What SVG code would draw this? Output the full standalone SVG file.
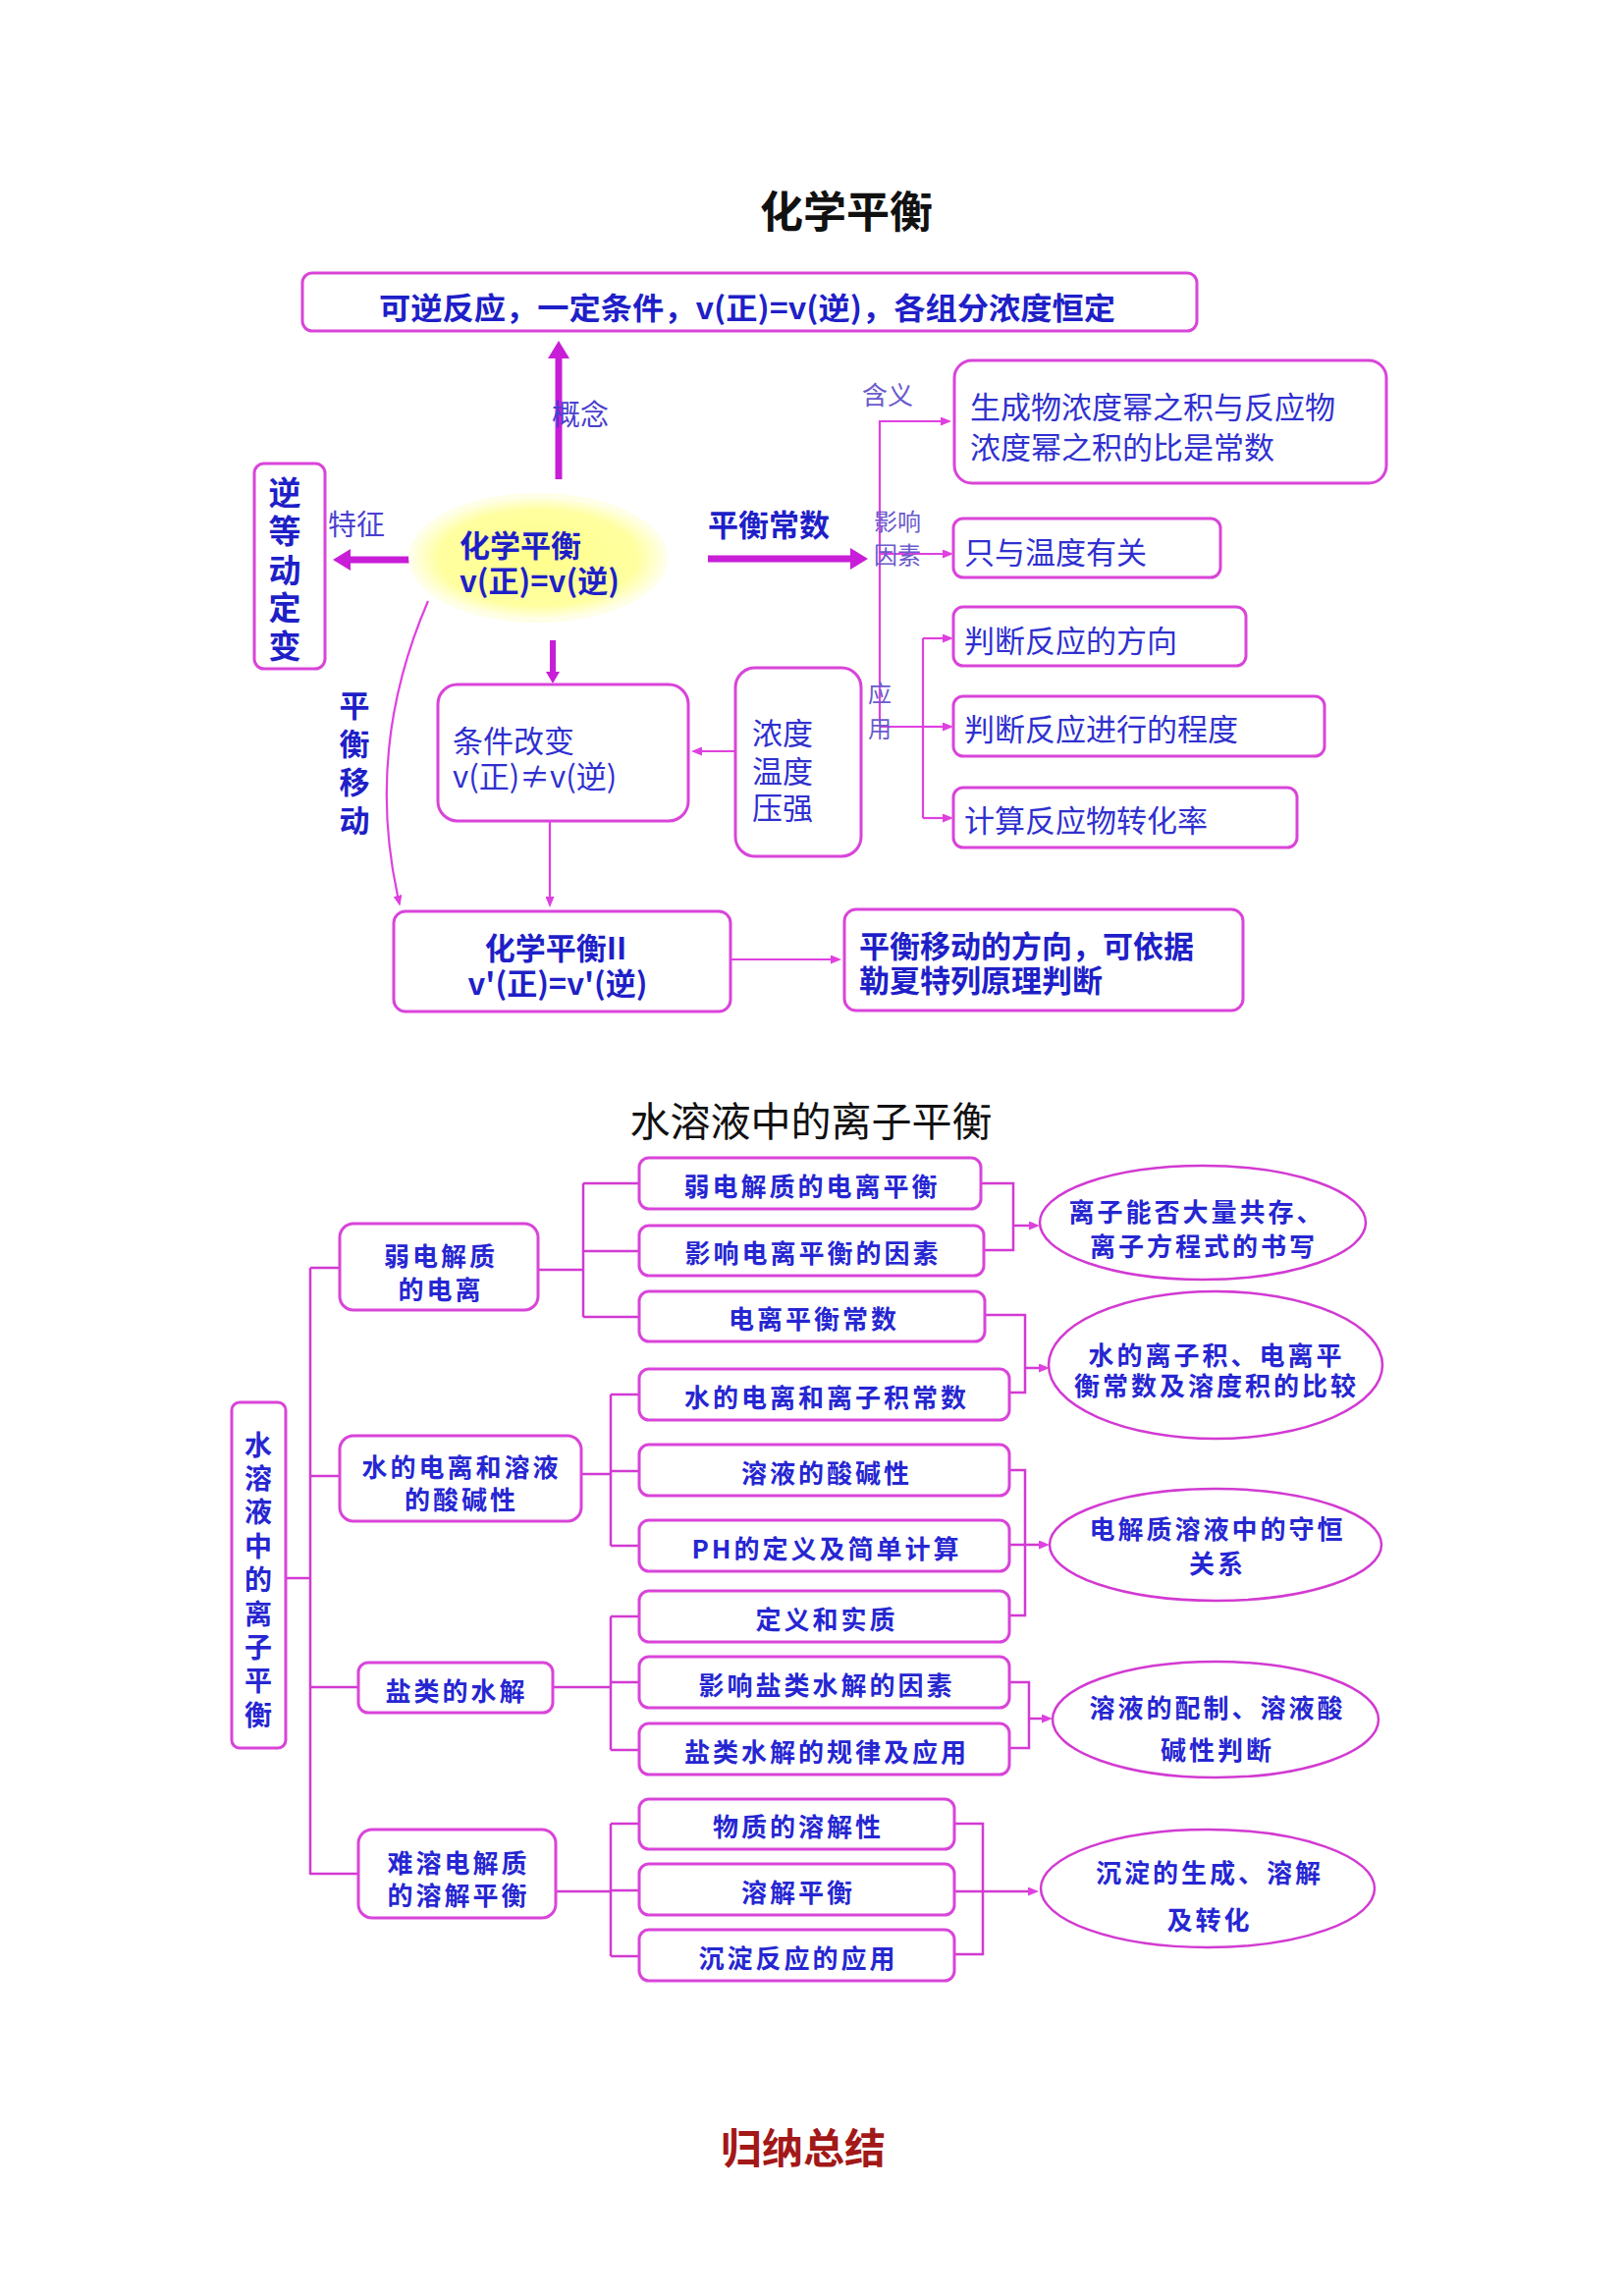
<svg xmlns="http://www.w3.org/2000/svg" width="1653" height="2338" viewBox="0 0 1653 2338">
<defs>
<style>
text{font-family:"Noto Sans CJK SC","Liberation Sans",sans-serif;dominant-baseline:central}
.title{font-size:44px;font-weight:bold;fill:#111;text-anchor:middle}
.title2{font-size:41px;fill:#111;text-anchor:middle}
.box{fill:#fff;stroke:#d944d9;stroke-width:3}
.bt{font-size:31px;font-weight:bold;fill:#1f1fc8}
.nt{font-size:31px;fill:#3030d0}
.lbl{font-size:24px;fill:#6a5acd}
.lbl2{font-size:29px;fill:#4a3fd0}
.mid{text-anchor:middle}
.thick{stroke:#c81ed8;stroke-width:7;fill:none}
.thin{stroke:#e040e0;stroke-width:2.2;fill:none}
.c2{stroke:#d23ad2;stroke-width:2.5;fill:none}
.s2{font-size:26px;font-weight:bold;fill:#2626d2;letter-spacing:3px;text-anchor:middle}
.v2{font-size:28px;font-weight:bold;fill:#2626d2;text-anchor:middle}
.ell{fill:#fff;stroke:#d23ad2;stroke-width:2.5}
</style>
<marker id="big" viewBox="0 0 18 22" markerWidth="18" markerHeight="22" refX="0" refY="11" orient="auto" markerUnits="userSpaceOnUse"><path d="M0,0 L18,11 L0,22 z" fill="#c81ed8"/></marker>
<marker id="mid" viewBox="0 0 12 14" markerWidth="12" markerHeight="14" refX="0" refY="7" orient="auto" markerUnits="userSpaceOnUse"><path d="M0,0 L12,7 L0,14 z" fill="#c81ed8"/></marker>
<marker id="sm" viewBox="0 0 11 9" markerWidth="11" markerHeight="9" refX="0" refY="4.5" orient="auto" markerUnits="userSpaceOnUse"><path d="M0,0 L11,4.5 L0,9 z" fill="#e040e0"/></marker>
<radialGradient id="yel" cx="0.5" cy="0.5" r="0.5">
<stop offset="0" stop-color="#ffff8c"/><stop offset="0.8" stop-color="#ffffa0"/><stop offset="1" stop-color="#ffffe0"/>
</radialGradient>
</defs>
<rect width="1653" height="2338" fill="#fff"/>

<!-- ===== Section 1 ===== -->
<text class="title" x="862" y="213">化学平衡</text>

<g id="connectors1">
<line class="thick" x1="569" y1="488" x2="569" y2="365" marker-end="url(#big)"/>
<line class="thick" x1="417" y1="570" x2="357" y2="570" marker-end="url(#big)"/>
<line class="thick" x1="721" y1="569" x2="866" y2="569" marker-end="url(#big)"/>
<line class="thick" x1="563" y1="652" x2="563" y2="684" style="stroke-width:6" marker-end="url(#mid)"/>
<polyline class="thin" points="896,736 896,429 958,429" marker-end="url(#sm)"/>
<line class="thin" x1="896" y1="564" x2="960" y2="564" marker-end="url(#sm)"/>
<line class="thin" x1="896" y1="740" x2="940" y2="740"/>
<line class="thin" x1="940" y1="650" x2="940" y2="833"/>
<line class="thin" x1="940" y1="650" x2="960" y2="650" marker-end="url(#sm)"/>
<line class="thin" x1="940" y1="740" x2="960" y2="740" marker-end="url(#sm)"/>
<line class="thin" x1="940" y1="833" x2="960" y2="833" marker-end="url(#sm)"/>
<line class="thin" x1="748" y1="765" x2="715" y2="765" marker-end="url(#sm)"/>
<line class="thin" x1="560" y1="837" x2="560" y2="913" marker-end="url(#sm)"/>
<path class="thin" d="M436,612 Q372,760 405,912" marker-end="url(#sm)"/>
<line class="thin" x1="745" y1="977" x2="846" y2="977" marker-end="url(#sm)"/>
</g>
<text class="lbl2" x="562" y="420">概念</text>
<text class="lbl2" x="334" y="532">特征</text>
<text class="lbl" x="878" y="400" style="font-size:26px">含义</text>
<text class="lbl"><tspan x="890" y="529">影响</tspan><tspan x="890" y="563">因素</tspan></text>
<text class="lbl"><tspan x="884" y="704">应</tspan><tspan x="884" y="740">用</tspan></text>
<text class="bt" x="721" y="532">平衡常数</text>

<g id="n_concept">
<rect class="box" x="308" y="278" width="911" height="59" rx="10"/>
<text class="bt" x="386" y="311" textLength="750" lengthAdjust="spacingAndGlyphs">可逆反应，一定条件，v(正)=v(逆)，各组分浓度恒定</text>
</g>

<g id="n_center">
<ellipse cx="548" cy="568" rx="132" ry="66" fill="#ffffe8"/>
<ellipse cx="548" cy="568" rx="126" ry="61" fill="url(#yel)"/>
<text class="bt"><tspan x="468" y="553">化学平衡</tspan><tspan x="468" y="589">v(正)=v(逆)</tspan></text>
</g>

<g id="n_features">
<rect class="box" x="259" y="472" width="72" height="209" rx="10"/>
<text class="bt mid" style="font-size:33px"><tspan x="290" y="500">逆</tspan><tspan x="290" y="539">等</tspan><tspan x="290" y="579">动</tspan><tspan x="290" y="617">定</tspan><tspan x="290" y="656">变</tspan></text>
</g>

<g id="n_shiftlabel">
<text class="bt mid"><tspan x="361" y="716">平</tspan><tspan x="361" y="755">衡</tspan><tspan x="361" y="794">移</tspan><tspan x="361" y="833">动</tspan></text>
</g>

<g id="n_meaning">
<rect class="box" x="972" y="367" width="440" height="125" rx="18"/>
<text class="nt"><tspan x="988" y="412">生成物浓度幂之积与反应物</tspan><tspan x="988" y="453">浓度幂之积的比是常数</tspan></text>
</g>

<g id="n_temp">
<rect class="box" x="971" y="528" width="272" height="60" rx="10"/>
<text class="nt" x="982" y="560">只与温度有关</text>
</g>
<g id="n_dir">
<rect class="box" x="971" y="618" width="298" height="60" rx="10"/>
<text class="nt" x="982" y="650">判断反应的方向</text>
</g>
<g id="n_degree">
<rect class="box" x="971" y="709" width="378" height="61" rx="10"/>
<text class="nt" x="982" y="740">判断反应进行的程度</text>
</g>
<g id="n_conv">
<rect class="box" x="971" y="802" width="350" height="61" rx="10"/>
<text class="nt" x="982" y="833">计算反应物转化率</text>
</g>

<g id="n_factors">
<rect class="box" x="749" y="680" width="128" height="192" rx="20"/>
<text class="nt"><tspan x="766" y="744">浓度</tspan><tspan x="766" y="783">温度</tspan><tspan x="766" y="820">压强</tspan></text>
</g>

<g id="n_change">
<rect class="box" x="446" y="697" width="255" height="139" rx="20"/>
<text class="nt"><tspan x="461" y="752">条件改变</tspan><tspan x="461" y="788">v(正)≠v(逆)</tspan></text>
</g>

<g id="n_eq2">
<rect class="box" x="401" y="928" width="343" height="102" rx="12"/>
<text class="bt mid"><tspan x="566" y="963">化学平衡II</tspan><tspan x="568" y="999">v'(正)=v'(逆)</tspan></text>
</g>

<g id="n_lechatelier">
<rect class="box" x="860" y="926" width="406" height="103" rx="12"/>
<text class="bt"><tspan x="875" y="961">平衡移动的方向，可依据</tspan><tspan x="875" y="996">勒夏特列原理判断</tspan></text>
</g>

<!-- ===== Section 2 ===== -->
<text class="title2" x="826" y="1139">水溶液中的离子平衡</text>

<g id="connectors2">
<line class="c2" x1="291" y1="1607" x2="316" y2="1607"/>
<line class="c2" x1="316" y1="1291" x2="316" y2="1909"/>
<line class="c2" x1="316" y1="1291" x2="346" y2="1291"/>
<line class="c2" x1="316" y1="1503" x2="346" y2="1503"/>
<line class="c2" x1="316" y1="1718" x2="365" y2="1718"/>
<line class="c2" x1="316" y1="1908" x2="365" y2="1908"/>

<line class="c2" x1="548" y1="1293" x2="594" y2="1293"/>
<line class="c2" x1="594" y1="1205" x2="594" y2="1341"/>
<line class="c2" x1="594" y1="1205" x2="651" y2="1205"/>
<line class="c2" x1="594" y1="1274" x2="651" y2="1274"/>
<line class="c2" x1="594" y1="1341" x2="651" y2="1341"/>

<line class="c2" x1="592" y1="1501" x2="622" y2="1501"/>
<line class="c2" x1="622" y1="1420" x2="622" y2="1574"/>
<line class="c2" x1="622" y1="1420" x2="651" y2="1420"/>
<line class="c2" x1="622" y1="1498" x2="651" y2="1498"/>
<line class="c2" x1="622" y1="1574" x2="651" y2="1574"/>

<line class="c2" x1="563" y1="1718" x2="622" y2="1718"/>
<line class="c2" x1="622" y1="1646" x2="622" y2="1782"/>
<line class="c2" x1="622" y1="1646" x2="651" y2="1646"/>
<line class="c2" x1="622" y1="1713" x2="651" y2="1713"/>
<line class="c2" x1="622" y1="1782" x2="651" y2="1782"/>

<line class="c2" x1="566" y1="1926" x2="622" y2="1926"/>
<line class="c2" x1="622" y1="1857" x2="622" y2="1992"/>
<line class="c2" x1="622" y1="1857" x2="651" y2="1857"/>
<line class="c2" x1="622" y1="1925" x2="651" y2="1925"/>
<line class="c2" x1="622" y1="1992" x2="651" y2="1992"/>

<polyline class="c2" points="999,1205 1032,1205 1032,1273 1002,1273"/>
<line class="c2" x1="1032" y1="1248" x2="1048" y2="1248" marker-end="url(#sm)"/>
<polyline class="c2" points="1003,1339 1044,1339 1044,1418 1028,1418"/>
<line class="c2" x1="1044" y1="1393" x2="1058" y2="1393" marker-end="url(#sm)"/>
<polyline class="c2" points="1028,1497 1044,1497 1044,1645 1028,1645"/>
<line class="c2" x1="1028" y1="1573" x2="1058" y2="1573" marker-end="url(#sm)"/>
<polyline class="c2" points="1028,1713 1048,1713 1048,1780 1028,1780"/>
<line class="c2" x1="1048" y1="1750" x2="1061" y2="1750" marker-end="url(#sm)"/>
<polyline class="c2" points="972,1857 1001,1857 1001,1990 972,1990"/>
<line class="c2" x1="972" y1="1926" x2="1047" y2="1926" marker-end="url(#sm)"/>
</g>

<g id="n_root">
<rect class="box" x="236" y="1428" width="55" height="352" rx="8"/>
<text class="v2"><tspan x="263" y="1470">水</tspan><tspan x="263" y="1504">溶</tspan><tspan x="263" y="1538">液</tspan><tspan x="263" y="1573">中</tspan><tspan x="263" y="1607">的</tspan><tspan x="263" y="1642">离</tspan><tspan x="263" y="1676">子</tspan><tspan x="263" y="1710">平</tspan><tspan x="263" y="1745">衡</tspan></text>
</g>

<g id="n_weak">
<rect class="box" x="346" y="1246" width="202" height="88" rx="14"/>
<text class="s2"><tspan x="449" y="1277">弱电解质</tspan><tspan x="449" y="1311">的电离</tspan></text>
</g>
<g id="n_water">
<rect class="box" x="346" y="1462" width="246" height="87" rx="14"/>
<text class="s2"><tspan x="470" y="1492">水的电离和溶液</tspan><tspan x="470" y="1525">的酸碱性</tspan></text>
</g>
<g id="n_salt">
<rect class="box" x="365" y="1693" width="198" height="51" rx="10"/>
<text class="s2" x="465" y="1720">盐类的水解</text>
</g>
<g id="n_insol">
<rect class="box" x="365" y="1863" width="201" height="90" rx="14"/>
<text class="s2"><tspan x="467" y="1895">难溶电解质</tspan><tspan x="467" y="1928">的溶解平衡</tspan></text>
</g>

<g id="l1"><rect class="box" x="651" y="1179" width="348" height="52" rx="10"/><text class="s2" x="827" y="1206">弱电解质的电离平衡</text></g>
<g id="l2"><rect class="box" x="651" y="1248" width="351" height="51" rx="10"/><text class="s2" x="828" y="1274">影响电离平衡的因素</text></g>
<g id="l3"><rect class="box" x="651" y="1315" width="352" height="51" rx="10"/><text class="s2" x="829" y="1341">电离平衡常数</text></g>
<g id="l4"><rect class="box" x="651" y="1394" width="377" height="52" rx="10"/><text class="s2" x="842" y="1421">水的电离和离子积常数</text></g>
<g id="l5"><rect class="box" x="651" y="1471" width="377" height="52" rx="10"/><text class="s2" x="842" y="1498">溶液的酸碱性</text></g>
<g id="l6"><rect class="box" x="651" y="1548" width="377" height="52" rx="10"/><text class="s2" x="842" y="1575">PH的定义及简单计算</text></g>
<g id="l7"><rect class="box" x="651" y="1620" width="377" height="52" rx="10"/><text class="s2" x="842" y="1647">定义和实质</text></g>
<g id="l8"><rect class="box" x="651" y="1687" width="377" height="52" rx="10"/><text class="s2" x="842" y="1714">影响盐类水解的因素</text></g>
<g id="l9"><rect class="box" x="651" y="1755" width="377" height="52" rx="10"/><text class="s2" x="842" y="1782">盐类水解的规律及应用</text></g>
<g id="l10"><rect class="box" x="651" y="1832" width="321" height="51" rx="10"/><text class="s2" x="813" y="1858">物质的溶解性</text></g>
<g id="l11"><rect class="box" x="651" y="1898" width="321" height="52" rx="10"/><text class="s2" x="813" y="1925">溶解平衡</text></g>
<g id="l12"><rect class="box" x="651" y="1965" width="321" height="52" rx="10"/><text class="s2" x="813" y="1992">沉淀反应的应用</text></g>

<g id="e1"><ellipse class="ell" cx="1225" cy="1245" rx="166" ry="58"/>
<text class="s2"><tspan x="1219" y="1232">离子能否大量共存、</tspan><tspan x="1226" y="1267">离子方程式的书写</tspan></text></g>
<g id="e2"><ellipse class="ell" cx="1238" cy="1390" rx="170" ry="75"/>
<text class="s2"><tspan x="1239" y="1378">水的离子积、电离平</tspan><tspan x="1239" y="1409">衡常数及溶度积的比较</tspan></text></g>
<g id="e3"><ellipse class="ell" cx="1238" cy="1573" rx="169" ry="57"/>
<text class="s2"><tspan x="1240" y="1555">电解质溶液中的守恒</tspan><tspan x="1240" y="1590">关系</tspan></text></g>
<g id="e4"><ellipse class="ell" cx="1238" cy="1751" rx="166" ry="59"/>
<text class="s2"><tspan x="1240" y="1737">溶液的配制、溶液酸</tspan><tspan x="1240" y="1780">碱性判断</tspan></text></g>
<g id="e5"><ellipse class="ell" cx="1230" cy="1923" rx="170" ry="60"/>
<text class="s2"><tspan x="1232" y="1905">沉淀的生成、溶解</tspan><tspan x="1232" y="1953">及转化</tspan></text></g>

<text x="818" y="2184" style="font-size:42px;font-weight:bold;fill:#a31818;text-anchor:middle">归纳总结</text>
</svg>
